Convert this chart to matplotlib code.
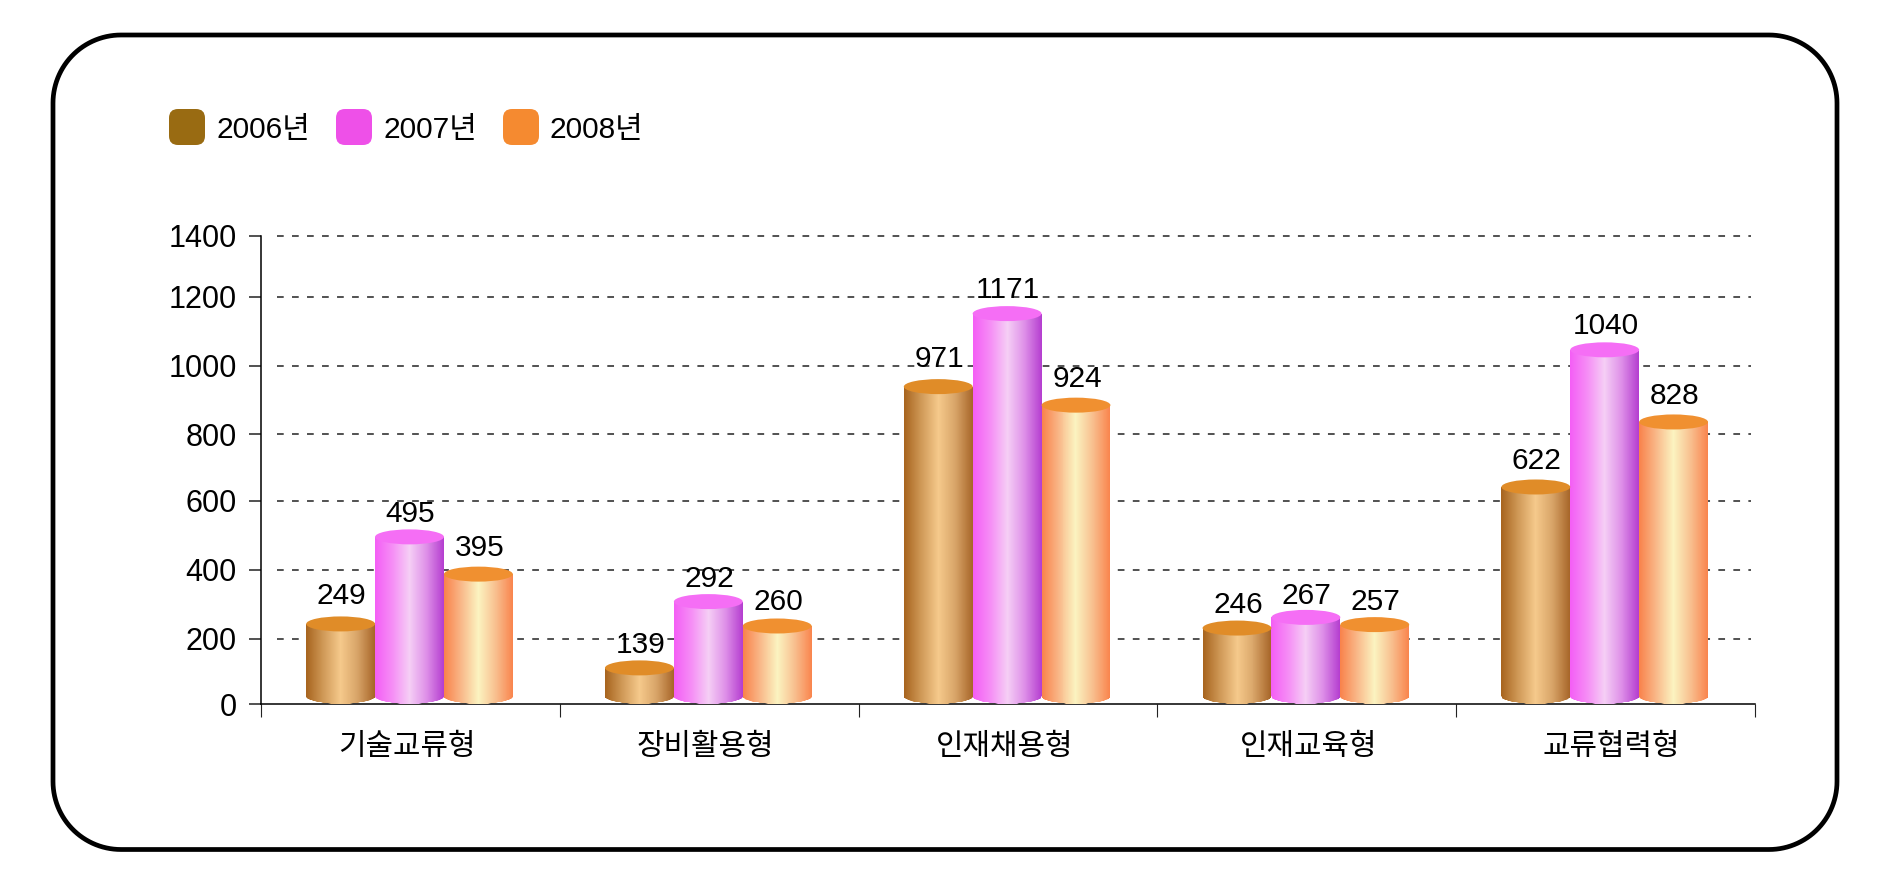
import matplotlib

matplotlib.use("Agg")
import matplotlib.pyplot as plt
import numpy as np
from matplotlib.colors import LinearSegmentedColormap
from matplotlib.patches import Ellipse, FancyBboxPatch, Polygon
from matplotlib.path import Path
from matplotlib.transforms import Affine2D, IdentityTransform

plt.rcParams["font.family"] = ["Liberation Sans", "Noto Sans CJK KR"]

categories = ["기술교류형", "장비활용형", "인재채용형", "인재교육형", "교류협력형"]
years = ["2006년", "2007년", "2008년"]

# printed numbers
labels_2006 = [249, 139, 971, 246, 622]
labels_2007 = [495, 292, 1171, 267, 1040]
labels_2008 = [395, 260, 924, 257, 828]

# drawn cylinder heights, they differ a bit from the printed numbers
tops_2006 = [243, 111, 939, 231, 642]
tops_2007 = [496, 308, 1151, 262, 1046]
tops_2008 = [388, 237, 885, 241, 836]

# gap from cylinder top to the number, pixels
gaps_2006 = [28, 23, 28, 23, 26]
gaps_2007 = [23, 23, 24, 21, 24]
gaps_2008 = [26, 24, 26, 23, 26]

# category labels are not quite centred in the original, pixels
category_nudges = [-4, -4, -3, 2, 6]

y_ticks = [0, 200, 400, 600, 800, 1000, 1200, 1400]
# the original axis is not evenly spaced: pixel row of each tick
y_tick_rows = [704.3, 638.7, 570, 501, 434.3, 365.7, 296.7, 235.7]

legend_colors = ["#996b12", "#ee50e8", "#f58a30"]
cap_colors = ["#e08c28", "#f56ef5", "#f09030"]
side_stops = [
    ["#a8651f", "#d09a58", "#f5c98b", "#d8a468", "#a8672a"],
    ["#f45ff5", "#f58ef5", "#f5cef5", "#de90e8", "#b53fd0"],
    ["#f9834c", "#f9b98a", "#fbf3c0", "#f8c090", "#f9864f"],
]

W, H = 1890, 886
px = IdentityTransform()


def to_axis(v):
    return np.interp(v, y_ticks, -np.array(y_tick_rows))


def from_axis(v):
    return np.interp(v, -np.array(y_tick_rows), y_ticks)


def rounded_frame(x0, y0, x1, y1, r):
    # true circular corners, the bezier ones of FancyBboxPatch look too square
    corners = [(x1 - r, y1 - r, 0), (x0 + r, y1 - r, 90), (x0 + r, y0 + r, 180), (x1 - r, y0 + r, 270)]
    points = []
    for cx, cy, start in corners:
        t = np.radians(np.linspace(start, start + 90, 30))
        points.append(np.column_stack([cx + r * np.cos(t), cy + r * np.sin(t)]))
    return np.vstack(points)


def draw_cylinder(ax, left, width, value, stops, cap):
    cmap = LinearSegmentedColormap.from_list("side", stops)
    xs = np.linspace(left, left + width, 70)
    shade = np.linspace(0, 1, 69).reshape(1, -1)
    mesh = ax.pcolormesh(xs, [0, value], shade, cmap=cmap, zorder=3)
    x0, y_top = ax.transData.transform((left, value))
    x1, y_zero = ax.transData.transform((left + width, 0))
    rx = (x1 - x0) / 2
    ry = 7.5
    base = y_zero + 8
    t = np.linspace(np.pi, 2 * np.pi, 40)
    outline = np.column_stack([x0 + rx + rx * np.cos(t), base + ry * np.sin(t)])
    outline = np.vstack([[x0, y_top], outline, [x1, y_top], [x0, y_top]])
    mesh.set_clip_path(Path(outline), px)
    ax.add_patch(Ellipse((x0 + rx, y_top), 2 * rx, 2 * ry, color=cap, lw=0, transform=px, zorder=4))


def main():
    fig = plt.figure(figsize=(W / 100, H / 100), dpi=100, facecolor="white")
    ax = fig.add_axes([261 / W, 1 - 704.3 / H, (1755 - 261) / W, (704.3 - 235.7) / H])
    ax.set_yscale("function", functions=(to_axis, from_axis))
    ax.set_xlim(0, 5)
    ax.set_ylim(0, 1400)
    ax.set_autoscale_on(False)

    for side in ["top", "right"]:
        ax.spines[side].set_visible(False)
    ax.spines["left"].set_linewidth(1.1)
    ax.spines["bottom"].set_linewidth(1.1)

    ax.set_yticks(y_ticks)
    ax.yaxis.set_minor_locator(plt.NullLocator())
    ax.tick_params(axis="y", length=8.9, width=1.1, color="#222222", labelsize=22, pad=8.5)
    ax.set_xticks(np.arange(6))
    ax.set_xticklabels([])
    ax.set_xticks(np.arange(5) + 0.5, minor=True)
    ax.set_xticklabels(categories, minor=True)
    ax.tick_params(axis="x", which="major", length=9.2, width=0.8, color="#222222")
    ax.tick_params(axis="x", which="minor", length=0, labelsize=21.5, pad=20.5)
    for tick, nudge in zip(ax.xaxis.get_minor_ticks(), category_nudges):
        tick.label1.set_transform(tick.label1.get_transform() + Affine2D().translate(nudge, 0))

    ax.hlines(y_ticks[1:], 0.0535, 4.987, colors="#2a2a2a", linewidth=1.15,
              linestyles=(0, (4.2, 5.2)), zorder=1, clip_on=False)

    width = 0.2305
    tops = [tops_2006, tops_2007, tops_2008]
    labels = [labels_2006, labels_2007, labels_2008]
    gaps = [gaps_2006, gaps_2007, gaps_2008]
    for s in range(3):
        for i in range(len(categories)):
            center = i + 0.497 + (s - 1) * width
            draw_cylinder(ax, center - width / 2, width, tops[s][i], side_stops[s], cap_colors[s])
            ax.annotate(str(labels[s][i]), (center, tops[s][i]), xytext=(1, gaps[s][i]),
                        textcoords="offset pixels", ha="center", va="center",
                        fontsize=21.5, color="black", zorder=6)

    # rounded outer frame
    fig.add_artist(Polygon(rounded_frame(53, H - 849.5, 1837, H - 35, 68), closed=True, fc="none",
                           ec="black", lw=3.4, transform=px))

    # legend
    for swatch_x, text_x, color, year in zip([169, 336, 503], [217, 384, 550], legend_colors, years):
        fig.add_artist(FancyBboxPatch((swatch_x + 8, H - 145 + 8), 20, 20,
                                      boxstyle="round,pad=8,rounding_size=9", fc=color, ec="none",
                                      transform=px))
        fig.text(text_x / W, 1 - 130 / H, year, fontsize=21.5, ha="left", va="center", color="black")

    fig.savefig("out.png", dpi=100, facecolor="white")


if __name__ == "__main__":
    main()
